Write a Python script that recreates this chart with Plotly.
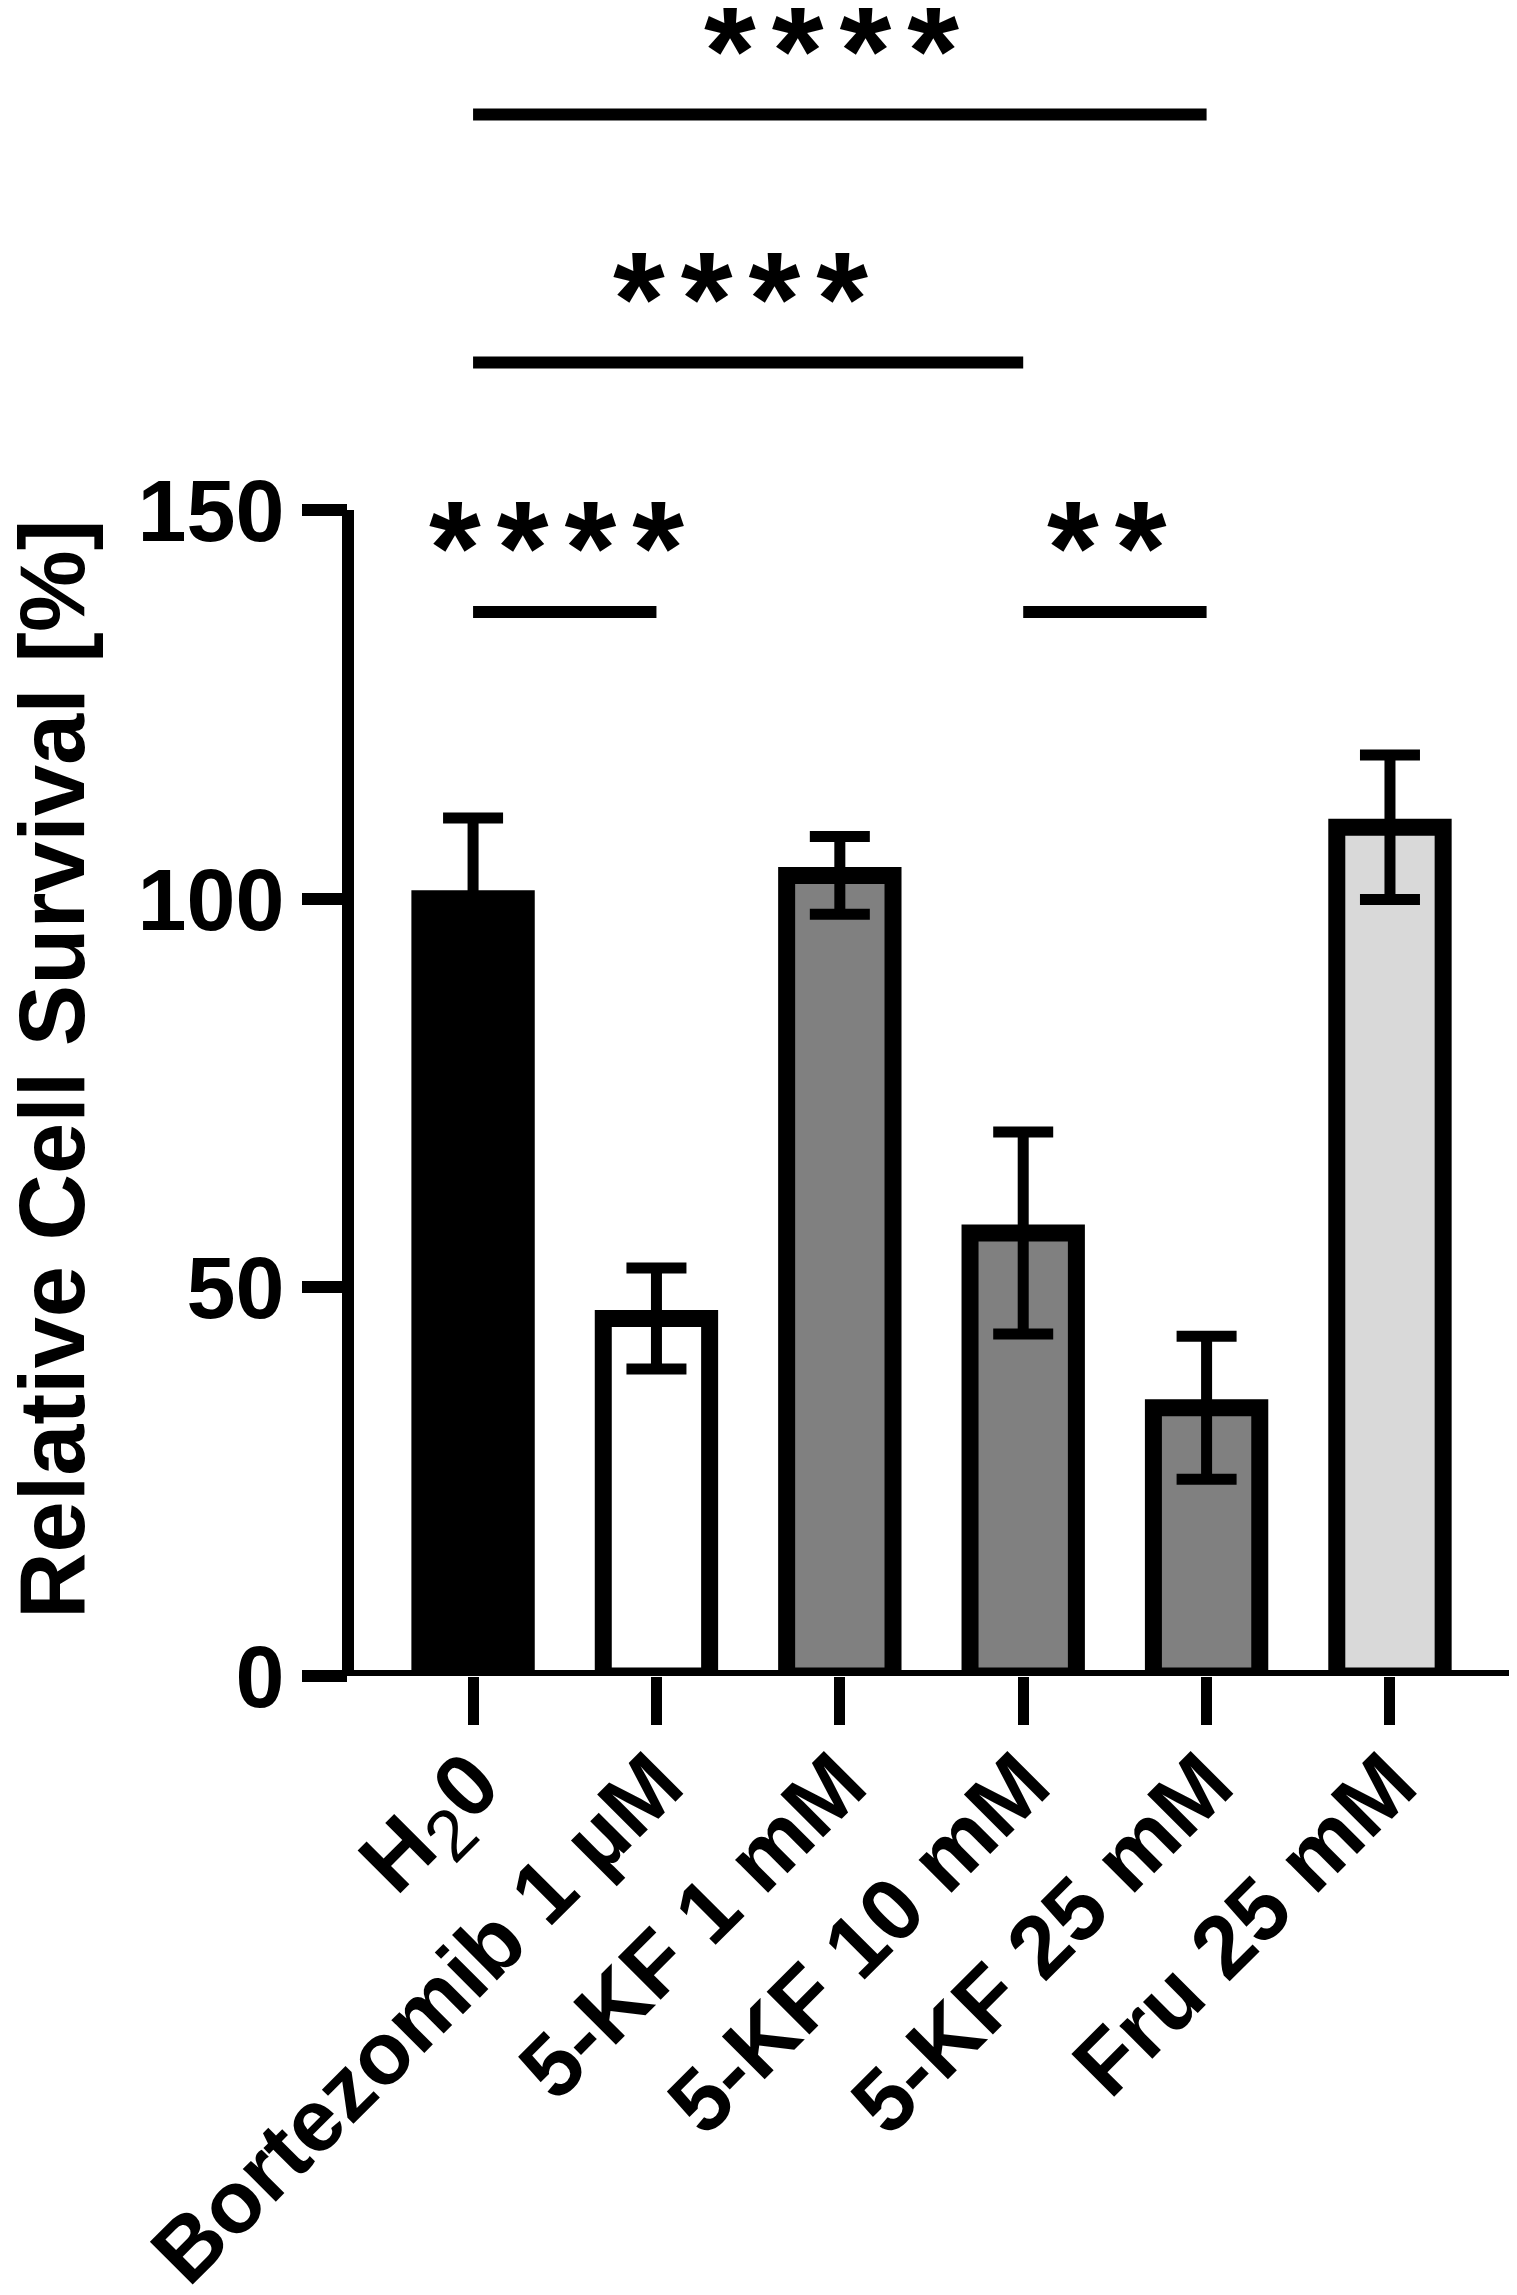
import plotly.graph_objects as go

# data
groups = ["H<sub><span style='font-weight:normal;font-size:72px'>2</span></sub>0", "Bortezomib 1 µM",
          "5-KF 1 mM", "5-KF 10 mM", "5-KF 25 mM", "Fru 25 mM"]
survival = [100, 46, 103, 57, 34.5, 109.2]
survival_err = [10.4, 6.5, 5.0, 13.0, 9.2, 9.3]
bar_colors = ["#000000", "#ffffff", "#808080", "#808080", "#808080", "#d9d9d9"]

# significance brackets: (from group, to group, height, stars)
sig_from = [0, 3, 0, 0]
sig_to = [1, 4, 3, 4]
sig_height = [136.9, 136.9, 169.0, 200.9]
sig_stars = ["****", "**", "****", "****"]

FONT = "Liberation Sans"
xpos = list(range(len(groups)))

fig = go.Figure()
fig.add_trace(go.Bar(
    x=xpos, y=survival, width=0.58,
    marker=dict(color=bar_colors, line=dict(color="black", width=17)),
    error_y=dict(type="data", array=survival_err, visible=True,
                 color="black", thickness=11, width=30),
))

shapes = [
    # axis lines drawn by hand: y only up to 150, x right on zero
    dict(type="line", xref="paper", yref="y", x0=0, x1=0, y0=0, y1=150,
         line=dict(color="black", width=12)),
    dict(type="line", xref="paper", yref="y", x0=0, x1=1, y0=0, y1=0,
         line=dict(color="black", width=12)),
]
annotations = []
for a, b, h, s in zip(sig_from, sig_to, sig_height, sig_stars):
    shapes.append(dict(type="line", xref="x", yref="y", x0=a, x1=b, y0=h, y1=h,
                       line=dict(color="black", width=12)))
    annotations.append(dict(x=(a + b) / 2, y=h + 8.2, xref="x", yref="y",
                            text="<span style='letter-spacing:16px'>" + s + "</span>",
                            showarrow=False, yanchor="middle",
                            font=dict(family=FONT, size=133, color="black", weight="bold")))

annotations.append(dict(x=-0.252, y=78, xref="paper", yref="y",
                        text="Relative Cell Survival [%]", textangle=-90,
                        showarrow=False, xanchor="center", yanchor="middle",
                        font=dict(family=FONT, size=92, color="black", weight="bold")))

fig.update_layout(
    width=1517, height=2295,
    margin=dict(l=340, r=3, t=0, b=627),
    plot_bgcolor="white", paper_bgcolor="white",
    showlegend=False,
    shapes=shapes, annotations=annotations,
    xaxis=dict(range=[-0.682, 5.72], tickvals=xpos, ticktext=groups,
               tickangle=-45, showline=False,
               ticks="outside", ticklen=48, tickwidth=11, tickcolor="black",
               ticklabelstandoff=-28,
               showgrid=False, zeroline=False,
               tickfont=dict(family=FONT, size=88, color="black", weight="bold")),
    yaxis=dict(range=[0, 214.6], tickvals=[0, 50, 100, 150],
               showline=False, showgrid=False, zeroline=False,
               ticks="outside", ticklen=45, tickwidth=12, tickcolor="black",
               tickfont=dict(family=FONT, size=88, color="black", weight="bold")),
)

fig.write_html("out.html")
